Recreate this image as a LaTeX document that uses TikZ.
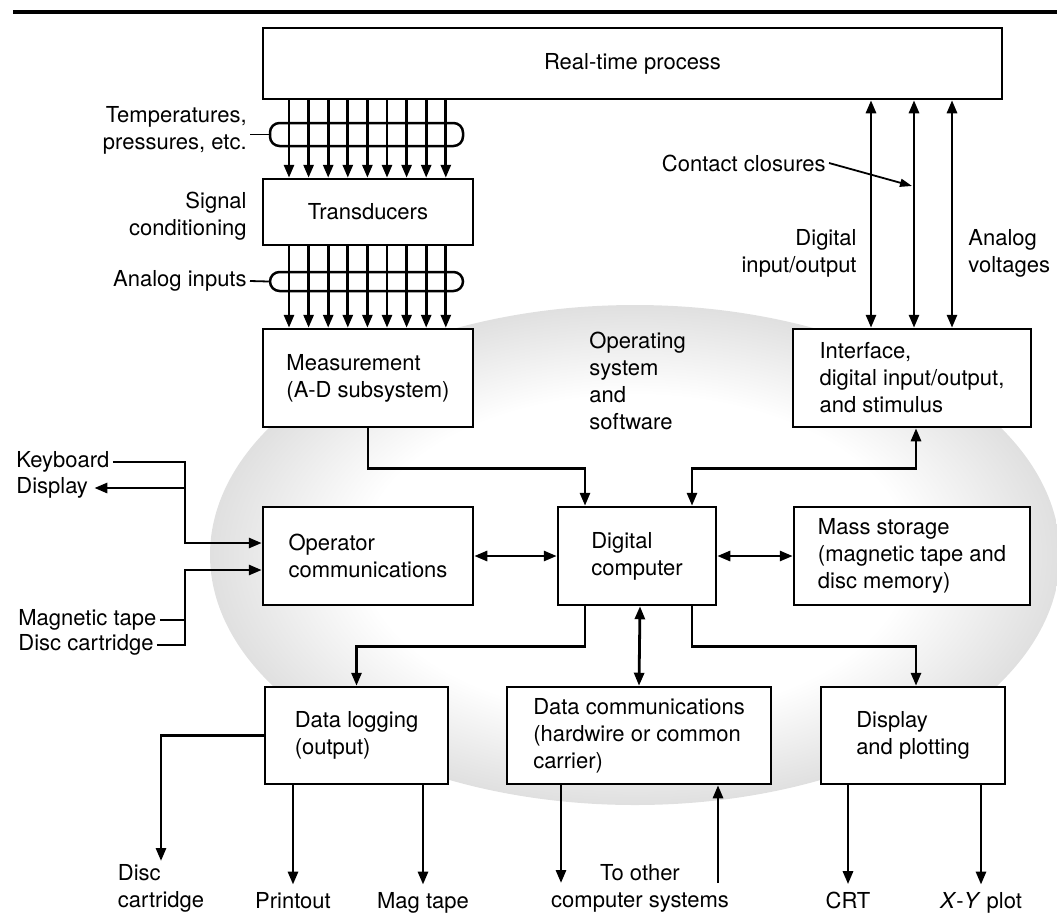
\documentclass[tikz,border=0pt]{standalone}
\usepackage{fontspec}
\setmainfont{TeX Gyre Heros}
\usetikzlibrary{arrows.meta}
\pgfdeclareradialshading{blob}{\pgfpoint{0bp}{0bp}}{color(0bp)=(white); color(16bp)=(white); color(27bp)=(gray!30); color(35.4bp)=(gray!70); color(50bp)=(gray!70)}

\begin{document}
\begin{tikzpicture}[x=1pt, y=-1pt, line width=2.8pt,
    >={Triangle[length=13pt, width=10pt]},
    every node/.style={font=\fontsize{22}{27}\selectfont, inner sep=2pt},
    box/.style={draw, fill=white, align=left, line width=2.5pt},
    bundle/.style={draw, rounded corners=9.5pt, minimum width=193pt, line width=2.5pt},
    outlbl/.style={anchor=base, inner ysep=6pt},
    leader/.style={line width=1.8pt}]
    \useasboundingbox (0,0) rectangle (1057,914);
    \draw[line width=4pt] (13,12) -- (1057,12);
    \shade[shading=blob] (635,555) ellipse (425 and 250);

    \node[box, minimum width=739pt, minimum height=71pt] (proc) at (632.5,63.5) {Real-time process};
    \node[box, minimum width=210pt, minimum height=66pt] (trans) at (368,212) {Transducers};
    \node[box, minimum width=210pt, minimum height=98pt] (meas) at (368,378) {Measurement\\(A-D subsystem)};
    \node[box, minimum width=238pt, minimum height=98pt] (iface) at (912,378) {Interface,\\digital input/output,\\and stimulus};
    \node[box, minimum width=210pt, minimum height=98pt] (oper) at (368,556) {Operator\\communications};
    \node[box, minimum width=158pt, minimum height=98pt] (comp) at (637,556) {Digital\\computer};
    \node[box, minimum width=236pt, minimum height=98pt] (mass) at (912,556) {Mass storage\\(magnetic tape and\\disc memory)};
    \node[box, minimum width=183pt, minimum height=97pt] (dlog) at (356.5,735.5) {Data logging\\(output)};
    \node[box, minimum width=264pt, minimum height=97pt] (dcom) at (639,735.5) {Data communications\\(hardwire or common\\carrier)};
    \node[box, minimum width=184pt, minimum height=97pt] (disp) at (913,735.5) {Display\\and plotting};

    \node[bundle, minimum height=23pt] (bunA) at (366.5,134.5) {};
    \node[bundle, minimum height=19pt] (bunB) at (366.5,281.5) {};
    \node[anchor=east, align=right] (temps) at (250,130) {Temperatures,\\pressures, etc.};
    \node[anchor=east, align=right] (sigc) at (250,216) {Signal\\conditioning};
    \node[anchor=east] (ain) at (250,281) {Analog inputs};
    \draw[leader] (temps.east |- bunA.west) -- (bunA.west);
    \draw[leader] (ain.east) -- (bunB.west);
    \foreach \i in {0,...,8} {
        \pgfmathsetmacro\xx{289+19.6*\i}
        \draw[->] (proc.south -| \xx,0) -- (trans.north -| \xx,0);
        \draw[->] (trans.south -| \xx,0) -- (meas.north -| \xx,0);
    }

    \foreach \xx in {871,914,952}
        \draw[<->] (proc.south -| \xx,0) -- (iface.north -| \xx,0);
    \node[anchor=east] (cc) at (829,163) {Contact closures};
    \coordinate (cct) at (912,186);
    \draw[leader, ->, >={Triangle[length=12pt, width=8pt]}] (cc.east) -- (cct);
    \node[anchor=east, align=right] (dio) at (860,253) {Digital\\input/output};
    \node[anchor=west, align=left] (av) at (965,253) {Analog\\voltages};
    \node[anchor=west, align=left] (os) at (586,381) {Operating\\system\\and\\software};

    \draw[->] (meas.south) -- ++(0,40) -| ([xshift=-52pt]comp.north);
    \draw[<->] ([xshift=4pt]iface.south) -- ++(0,40) -| ([xshift=55pt]comp.north);
    \draw[<->] (oper.east) -- (comp.west);
    \draw[<->] (comp.east) -- (mass.west);
    \draw[->] ([xshift=-52pt]comp.south) -- ++(0,40) -| (dlog.north);
    \draw[<->] ([xshift=3pt]comp.south) -- (dcom.north);
    \draw[->] ([xshift=55pt]comp.south) -- ++(0,40) -| ([xshift=3pt]disp.north);

    \node[anchor=west] (kbd) at (13,462) {Keyboard};
    \node[anchor=west] (dsp) at (13,488) {Display};
    \node[anchor=west] (mtape) at (15,620) {Magnetic tape};
    \node[anchor=west] (dcart) at (15,645) {Disc cartridge};
    \coordinate (kj) at (185,462);
    \coordinate (dj) at (185,645);
    \draw[->] (kbd.east) -- (kj) |- ([yshift=13pt]oper.west);
    \draw[->] (kj |- dsp.east) -- ([xshift=3pt]dsp.east);
    \draw (mtape.east) -- (mtape.east -| dj);
    \draw[->] (dcart.east) -- (dj) |- ([yshift=-14pt]oper.west);

    \node[anchor=north, align=left] (dcout) at (161,861) {Disc\\cartridge};
    \node[outlbl] (prt) at (293,908) {Printout};
    \node[outlbl] (mtp) at (423,908) {Mag tape};
    \node[anchor=north, align=center] (other) at (640,861) {To other\\computer systems};
    \node[outlbl] (crt) at (848,908) {CRT};
    \node[outlbl] (xy) at (981,908) {\textit{X}-\textit{Y} plot};
    \coordinate (toout) at (561,883);
    \coordinate (toin) at (718,883);
    \draw[->] (dlog.west) -| (dcout.north);
    \draw[->] (dlog.south -| prt) -- (prt.north);
    \draw[->] (dlog.south -| mtp) -- (mtp.north);
    \draw[->] (dcom.south -| toout) -- (toout);
    \draw[->] (toin) -- (dcom.south -| toin);
    \draw[->] (disp.south -| crt) -- (crt.north);
    \draw[->] (disp.south -| xy) -- (xy.north);
\end{tikzpicture}
\end{document}
